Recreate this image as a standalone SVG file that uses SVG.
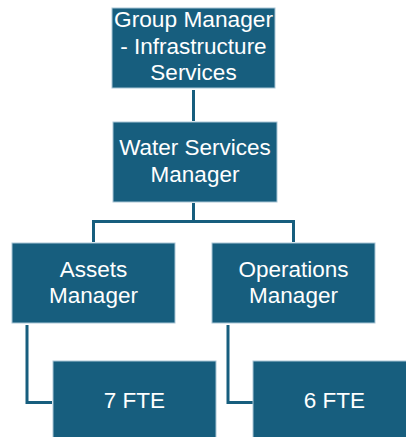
<svg xmlns="http://www.w3.org/2000/svg" width="406" height="437" viewBox="0 0 406 437">
  <style>
    .box { fill: #175e7e; stroke: #a9c6d6; stroke-width: 1; }
    .lbl { fill: #ffffff; font-family: "Liberation Sans", Arial, sans-serif; font-size: 22.5px; text-anchor: middle; }
    .link { fill: none; stroke: #175e7e; stroke-width: 3; }
  </style>
  <rect width="406" height="437" fill="#ffffff"/>
  <g id="connectors">
    <path class="link" d="M193.5 90 V121"/>
    <path class="link" d="M193.5 203 V221.5 H93.5 V242 M193.5 221.5 H293.5 V242"/>
    <path class="link" d="M27 325 V402.5 H52"/>
    <path class="link" d="M228 325 V402.5 H253"/>
  </g>
  <g id="group-manager">
    <rect class="box" x="112" y="8" width="163" height="80"/>
    <text class="lbl" x="193.5" y="27" textLength="159" lengthAdjust="spacingAndGlyphs">Group Manager</text>
    <text class="lbl" x="193.5" y="54">- Infrastructure</text>
    <text class="lbl" x="193.5" y="80">Services</text>
  </g>
  <g id="water-services-manager">
    <rect class="box" x="113" y="122" width="164" height="80"/>
    <text class="lbl" x="195" y="155">Water Services</text>
    <text class="lbl" x="195" y="182">Manager</text>
  </g>
  <g id="assets-manager">
    <rect class="box" x="12" y="243" width="163" height="80"/>
    <text class="lbl" x="93.5" y="277">Assets</text>
    <text class="lbl" x="93.5" y="303">Manager</text>
  </g>
  <g id="operations-manager">
    <rect class="box" x="212" y="243" width="163" height="80"/>
    <text class="lbl" x="293.5" y="277">Operations</text>
    <text class="lbl" x="293.5" y="303">Manager</text>
  </g>
  <g id="assets-fte">
    <rect class="box" x="53" y="361" width="163" height="80"/>
    <text class="lbl" x="134.5" y="408">7 FTE</text>
  </g>
  <g id="operations-fte">
    <rect class="box" x="253" y="361" width="163" height="80"/>
    <text class="lbl" x="334.5" y="408">6 FTE</text>
  </g>
</svg>
